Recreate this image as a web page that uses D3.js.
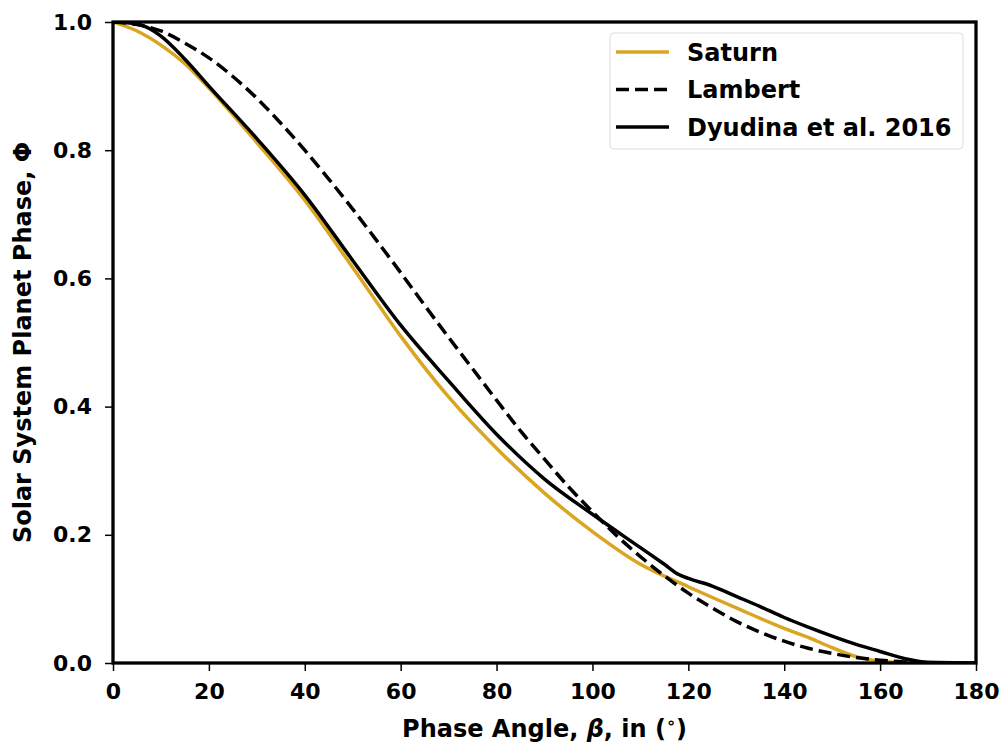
<!DOCTYPE html>
<html>
<head>
<meta charset="utf-8">
<script src="https://d3js.org/d3.v7.min.js"></script>
<style>
  body { margin: 0; background: #fff; }
  text { font-family: "DejaVu Sans", sans-serif; font-weight: bold; }
</style>
</head>
<body>
<div id="chart"></div>
<script>
// values
const saturnAngle = [0, 5, 10, 15, 20, 30, 40, 50, 60, 70, 80, 90, 100, 110, 120, 130, 140, 145, 150, 155, 160, 165, 170, 180]
const saturnPhase = [1.0, 0.986, 0.964, 0.935, 0.897, 0.812, 0.722, 0.617, 0.51, 0.415, 0.335, 0.265, 0.205, 0.154, 0.119, 0.086, 0.054, 0.04, 0.024, 0.01, 0.003, 0.0005, 0, 0]

const lambertAngle = [0, 5, 10, 15, 20, 25, 30, 35, 40, 45, 50, 55, 60, 65, 70, 75, 80, 85, 90, 95, 100, 105, 110, 115, 120, 125, 130, 135, 140, 145, 150, 155, 160, 165, 170, 175, 180]
const lambertPhase = [1.0, 0.996, 0.986, 0.967, 0.944, 0.915, 0.881, 0.842, 0.8, 0.755, 0.708, 0.659, 0.609, 0.558, 0.508, 0.459, 0.41, 0.362, 0.318, 0.275, 0.236, 0.199, 0.166, 0.136, 0.109, 0.086, 0.065, 0.048, 0.034, 0.023, 0.015, 0.0085, 0.0044, 0.0017, 0.0006, 0.0001, 0]

const dyudinaAngle = [0, 5, 7, 10, 15, 20, 30, 40, 50, 60, 70, 80, 90, 100, 110, 115, 118, 120, 125, 130, 135, 140, 145, 150, 155, 160, 165, 170, 180]
const dyudinaPhase = [1.0, 0.997, 0.992, 0.978, 0.942, 0.9, 0.818, 0.73, 0.628, 0.527, 0.44, 0.357, 0.287, 0.232, 0.18, 0.154, 0.138, 0.132, 0.12, 0.104, 0.088, 0.071, 0.056, 0.042, 0.029, 0.018, 0.007, 0.001, 0]

const xTicks = [0, 20, 40, 60, 80, 100, 120, 140, 160, 180]
const yTicks = [0.0, 0.2, 0.4, 0.6, 0.8, 1.0]

const series = [
  { name: 'Saturn', xs: saturnAngle, ys: saturnPhase, color: '#DAA520', dash: null },
  { name: 'Lambert', xs: lambertAngle, ys: lambertPhase, color: '#000', dash: '13,6' },
  { name: 'Dyudina et al. 2016', xs: dyudinaAngle, ys: dyudinaPhase, color: '#000', dash: null }
]

const width = 1005, height = 747
const margin = { left: 113, right: 29, top: 22, bottom: 84 }

const svg = d3.select('#chart').append('svg')
  .attr('width', width)
  .attr('height', height)

const x = d3.scaleLinear().domain([0, 180]).range([margin.left, width - margin.right])
const y = d3.scaleLinear().domain([0, 1]).range([height - margin.bottom, margin.top])

// clip so lines don't spill over the frame
svg.append('clipPath').attr('id', 'clip')
  .append('rect')
  .attr('x', x(0)).attr('y', y(1))
  .attr('width', x(180) - x(0)).attr('height', y(0) - y(1))

const line = d3.line()
  .x(d => x(d[0]))
  .y(d => y(d[1]))
  .curve(d3.curveMonotoneX)

const plot = svg.append('g').attr('clip-path', 'url(#clip)')
series.forEach(s => {
  plot.append('path')
    .datum(s.xs.map((v, i) => [v, s.ys[i]]))
    .attr('d', line)
    .attr('fill', 'none')
    .attr('stroke', s.color)
    .attr('stroke-width', 3.5)
    .attr('stroke-dasharray', s.dash)
})

// axes
const xAxis = svg.append('g')
  .attr('transform', `translate(0,${y(0)})`)
  .call(d3.axisBottom(x).tickValues(xTicks).tickSize(8).tickPadding(12).tickFormat(d3.format('d')))
const yAxis = svg.append('g')
  .attr('transform', `translate(${x(0)},0)`)
  .call(d3.axisLeft(y).tickValues(yTicks).tickSize(8).tickPadding(13).tickFormat(d3.format('.1f')))

;[xAxis, yAxis].forEach(g => {
  g.select('.domain').remove()
  g.selectAll('.tick line').attr('stroke', '#000').attr('stroke-width', 1.5)
  g.selectAll('.tick text').attr('font-size', 22).attr('fill', '#000')
    .style('font-family', '"DejaVu Sans", sans-serif').style('font-weight', 'bold')
})

// frame
svg.append('rect')
  .attr('x', x(0)).attr('y', y(1))
  .attr('width', x(180) - x(0)).attr('height', y(0) - y(1))
  .attr('fill', 'none')
  .attr('stroke', '#000')
  .attr('stroke-width', 3.3)

// axis labels
const xl = svg.append('text')
  .attr('x', (x(0) + x(180)) / 2)
  .attr('y', 737)
  .attr('text-anchor', 'middle')
  .attr('font-size', 24)
xl.append('tspan').text('Phase Angle, ')
xl.append('tspan').attr('font-style', 'italic').text('β')
xl.append('tspan').text(', in (')
xl.append('tspan').attr('font-size', 16).attr('dy', -9).text('∘')
xl.append('tspan').attr('dy', 9).text(')')

svg.append('text')
  .attr('transform', `translate(31,${(y(0) + y(1)) / 2}) rotate(-90)`)
  .attr('text-anchor', 'middle')
  .attr('font-size', 24)
  .text('Solar System Planet Phase, Φ')

// legend
const lg = svg.append('g').attr('transform', 'translate(610,33)')
lg.append('rect')
  .attr('width', 353).attr('height', 116)
  .attr('rx', 4)
  .attr('fill', '#fff')
  .attr('stroke', '#ddd')
  .attr('stroke-width', 1)
series.forEach((s, i) => {
  const yy = 19 + i * 37.5
  lg.append('line')
    .attr('x1', 6).attr('x2', 59)
    .attr('y1', yy).attr('y2', yy)
    .attr('stroke', s.color)
    .attr('stroke-width', 3.5)
    .attr('stroke-dasharray', s.dash)
  lg.append('text')
    .attr('x', 77).attr('y', yy + 8.5)
    .attr('font-size', 24)
    .text(s.name)
})
</script>
</body>
</html>
